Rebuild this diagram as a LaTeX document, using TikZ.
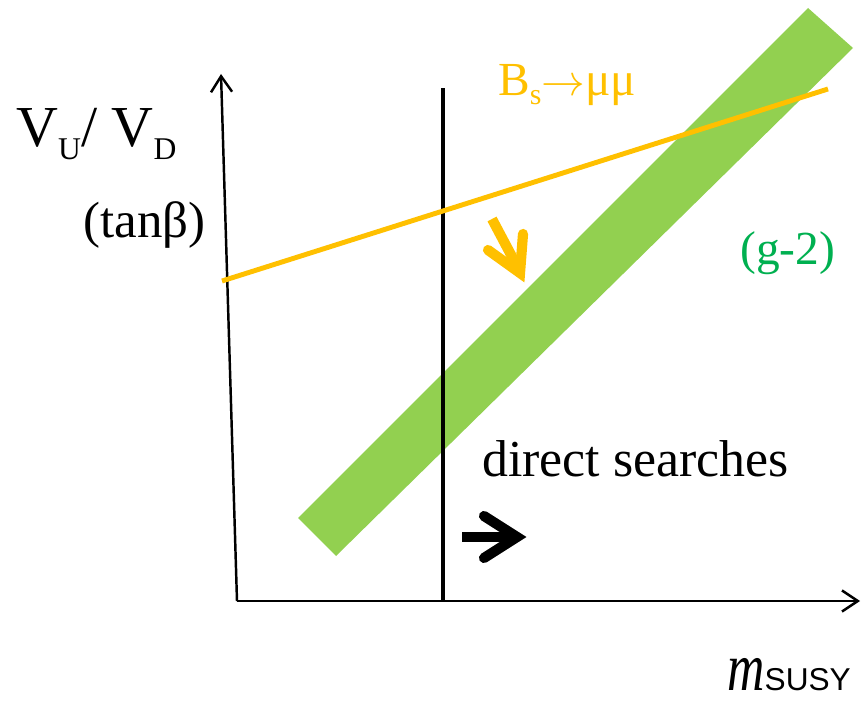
\documentclass[tikz,border=0pt]{standalone}
\usepackage{fontspec}
\setmainfont{Liberation Serif}
\newfontfamily\subsans{Liberation Sans}
\usepackage{tikz}
\usetikzlibrary{arrows.meta}

\definecolor{bsorange}{HTML}{FFC000}
\definecolor{bandgreen}{HTML}{92D050}
\definecolor{gminustwo}{HTML}{00B050}
\newcommand{\lowsub}[2]{\raisebox{-#1}{\fontsize{18}{18}\selectfont #2}}

\begin{document}
\begin{tikzpicture}[x=0.02cm, y=-0.02cm,
    axis/.style={line width=1.4pt, -{Straight Barb[length=9pt,width=12pt]}},
    fatarrow/.style={line width=5.8pt},
    lbl/.style={anchor=base west, inner sep=0pt}]
    \useasboundingbox (0,0) rectangle (862,705);

    % axes
    \coordinate (O) at (237,601);
    \coordinate (ytop) at (221,74);
    \coordinate (xend) at (860,601);
    \draw[axis] (O) -- (ytop);
    \draw[axis] (O) -- (xend);

    % (g-2) band and the two limits
    \fill[bandgreen] (298,518) -- (808,8) -- (853,48) -- (336,556) -- cycle;
    \coordinate (dsbot) at (443,601);
    \coordinate (dstop) at (443,88);
    \draw[line width=2.6pt] (dsbot) -- (dstop);
    \coordinate (bsleft) at (222,281);
    \coordinate (bsright) at (828,89);
    \draw[bsorange, line width=2.8pt] (bsleft) -- (bsright);

    % arrows showing where the limits move
    \draw[fatarrow, bsorange] (492,219) -- (518,268);
    \draw[fatarrow, bsorange, line cap=round, line join=miter] (488,250) -- (520,273) -- (523,234);
    \draw[fatarrow] (462,537) -- (514,537);
    \draw[fatarrow, line cap=round, line join=miter] (484,516) -- (517,537) -- (484,558);

    % labels
    \node[lbl, font=\fontsize{33}{33}\selectfont] (ratio) at (16,147)
        {V\lowsub{7pt}{U}/ V\lowsub{7pt}{D}};
    \node[lbl, font=\fontsize{29}{29}\selectfont] (tanb) at (83,238) {(tanβ)};
    \node[lbl, font=\fontsize{27}{27}\selectfont, text=bsorange] (bsmumu) at (498,96)
        {B\raisebox{-5pt}{\fontsize{17}{17}\selectfont s}$\rightarrow$μμ};
    \node[lbl, font=\fontsize{27}{27}\selectfont, text=gminustwo] (gtwo) at (740,265) {(g-2)};
    \node[lbl, font=\fontsize{29.5}{29.5}\selectfont] (direct) at (482,477) {direct searches};
    \node[lbl, font=\fontsize{31}{31}\selectfont] (msusy) at (727,690)
        {\scalebox{0.95}[1.25]{\itshape m}\fontsize{18}{18}\subsans\selectfont SUSY};
\end{tikzpicture}
\end{document}
